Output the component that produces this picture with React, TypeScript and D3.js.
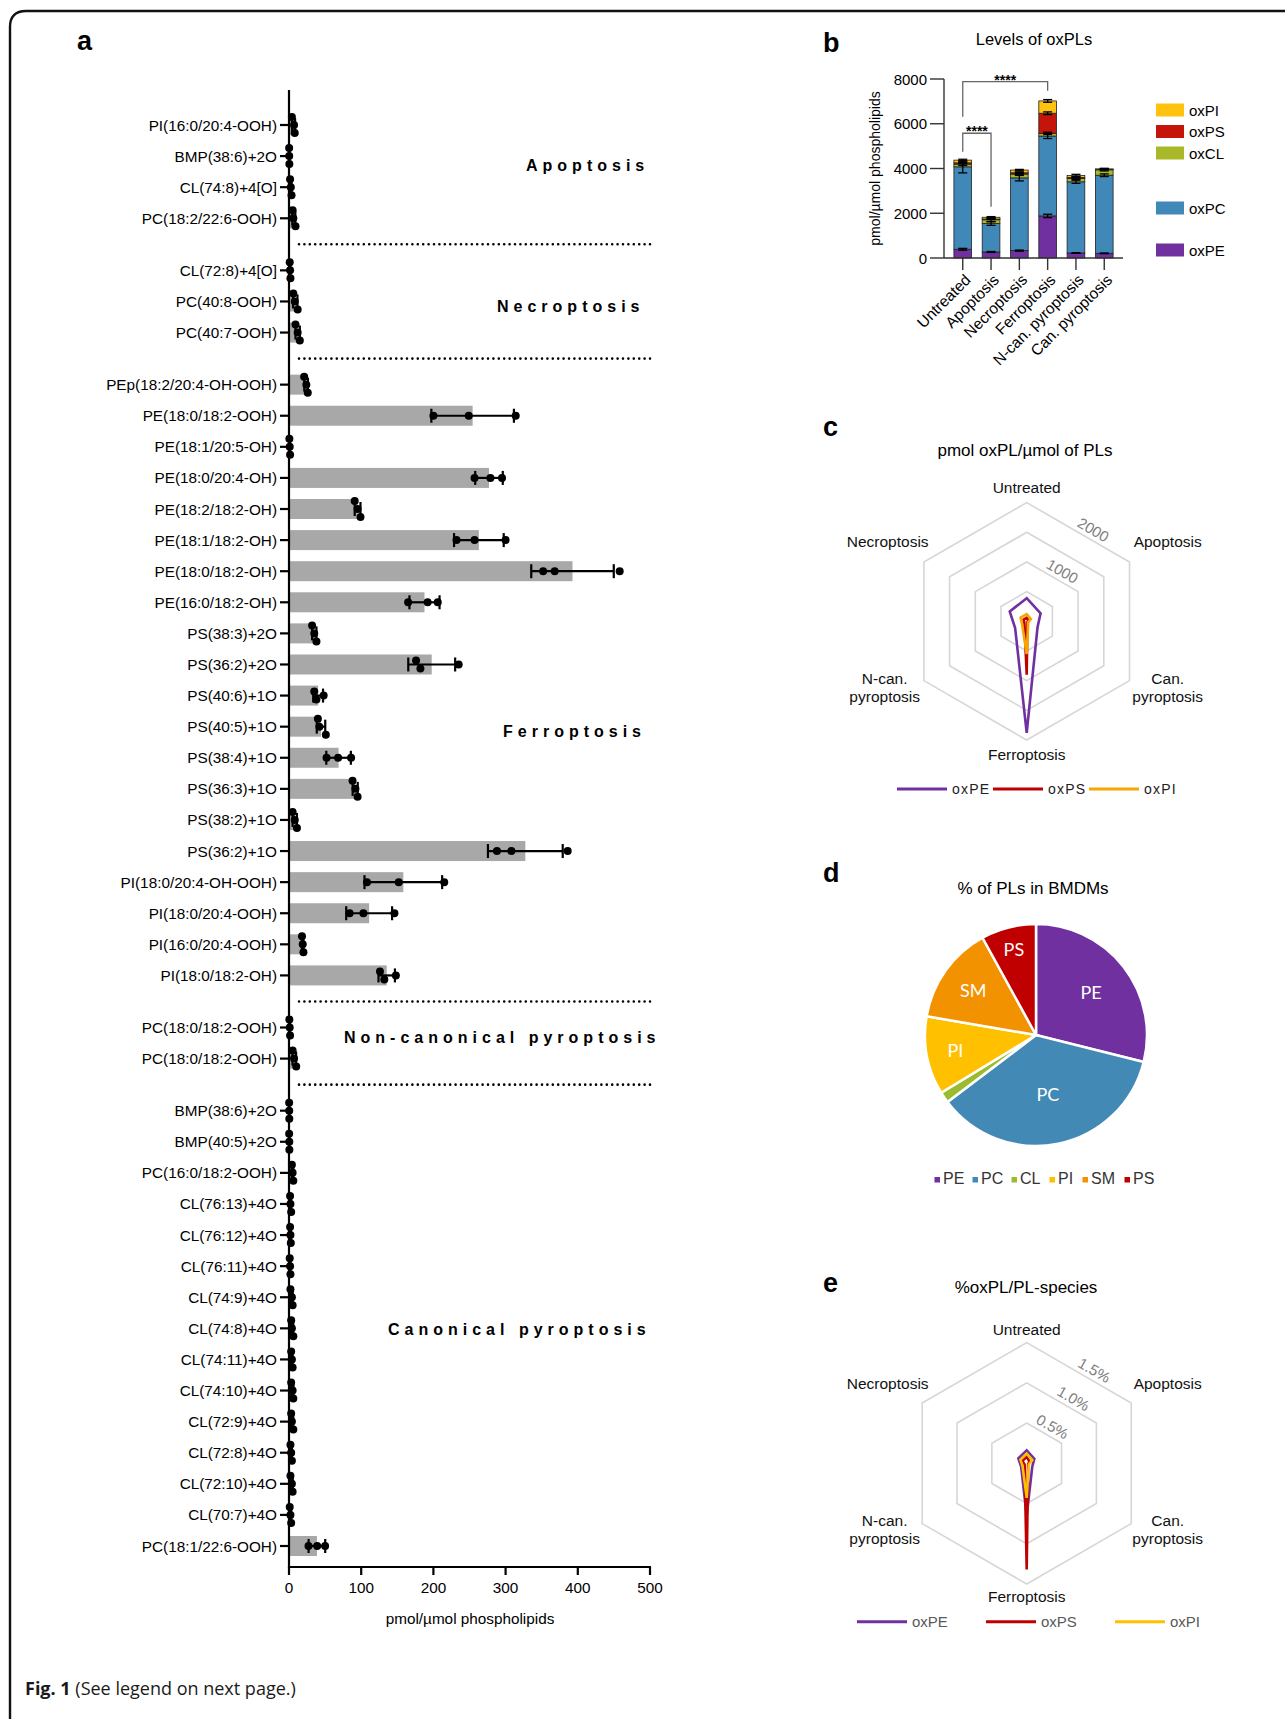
import React from 'react';
import * as d3 from 'd3';

const FONT = '"Liberation Sans", Arial, Helvetica, sans-serif';

// ---------------- Panel a data ----------------
const groupNames = ['Apoptosis', 'Necroptosis', 'Ferroptosis', 'Non-canonical pyroptosis', 'Canonical pyroptosis'];

const apoptosisSpecies = ['PI(16:0/20:4-OOH)', 'BMP(38:6)+2O', 'CL(74:8)+4[O]', 'PC(18:2/22:6-OOH)'];
const apoptosisValues = [[4, 7, 8], [0.2, 0.3, 0.5], [1.5, 2.5, 3.5], [5, 6, 9]];

const necroptosisSpecies = ['CL(72:8)+4[O]', 'PC(40:8-OOH)', 'PC(40:7-OOH)'];
const necroptosisValues = [[1, 1.5, 2], [6, 8, 12], [9, 12, 15]];

const ferroptosisSpecies = [
  'PEp(18:2/20:4-OH-OOH)', 'PE(18:0/18:2-OOH)', 'PE(18:1/20:5-OH)', 'PE(18:0/20:4-OH)', 'PE(18:2/18:2-OH)',
  'PE(18:1/18:2-OH)', 'PE(18:0/18:2-OH)', 'PE(16:0/18:2-OH)', 'PS(38:3)+2O', 'PS(36:2)+2O',
  'PS(40:6)+1O', 'PS(40:5)+1O', 'PS(38:4)+1O', 'PS(36:3)+1O', 'PS(38:2)+1O',
  'PS(36:2)+1O', 'PI(18:0/20:4-OH-OOH)', 'PI(18:0/20:4-OOH)', 'PI(16:0/20:4-OOH)', 'PI(18:0/18:2-OH)',
];
const ferroptosisValues = [
  [21, 24, 26], [200, 249, 314], [0.5, 1, 1.5], [257, 279, 295], [91, 95, 99],
  [232, 257, 300], [352, 368, 458], [165, 192, 206], [32, 35, 38], [176, 182, 235],
  [35, 38, 48], [40, 42, 51], [52, 68, 86], [88, 92, 95], [5, 8, 11],
  [288, 308, 386], [108, 152, 215], [84, 103, 146], [18, 19, 20], [126, 132, 148],
];

const nonCanonicalSpecies = ['PC(18:0/18:2-OOH)', 'PC(18:0/18:2-OOH)'];
const nonCanonicalValues = [[0.5, 1, 1.5], [5, 7, 10]];

const canonicalSpecies = [
  'BMP(38:6)+2O', 'BMP(40:5)+2O', 'PC(16:0/18:2-OOH)', 'CL(76:13)+4O', 'CL(76:12)+4O',
  'CL(76:11)+4O', 'CL(74:9)+4O', 'CL(74:8)+4O', 'CL(74:11)+4O', 'CL(74:10)+4O',
  'CL(72:9)+4O', 'CL(72:8)+4O', 'CL(72:10)+4O', 'CL(70:7)+4O', 'PC(18:1/22:6-OOH)',
];
const canonicalValues = [
  [0.2, 0.3, 0.4], [0.2, 0.4, 0.5], [4, 5, 6], [1.5, 2, 3], [1.5, 2, 2.5],
  [1, 1.5, 2], [2, 4, 5], [3, 4, 6], [3, 4, 5], [3, 5, 6],
  [3, 4, 6], [2, 3, 4], [2, 4, 5], [1, 2, 3], [27, 39, 50],
];

const xTicksA = [0, 100, 200, 300, 400, 500];

// ---------------- Panel b data ----------------
const conditions = ['Untreated', 'Apoptosis', 'Necroptosis', 'Ferroptosis', 'N-can. pyroptosis', 'Can. pyroptosis'];
const oxPE = [390, 270, 330, 1880, 225, 210];
const oxPC = [3684, 1270, 3250, 3570, 3180, 3490];
const oxCL = [120, 170, 170, 120, 150, 240];
const oxPS = [60, 30, 60, 900, 45, 15];
const oxPI = [120, 80, 120, 550, 90, 30];
const oxPEsd = [40, 20, 25, 75, 15, 15];
const oxPCsd = [270, 80, 135, 110, 70, 60];
const oxCLsd = [60, 80, 60, 50, 40, 50];
const oxPSsd = [40, 20, 40, 60, 30, 15];
const oxPIsd = [40, 30, 30, 60, 50, 25];
const yTicksB = [0, 2000, 4000, 6000, 8000];

// ---------------- Panel c / e data ----------------
const radarAxes = ['Untreated', 'Apoptosis', 'Can. pyroptosis', 'Ferroptosis', 'N-can. pyroptosis', 'Necroptosis'];
const ringsC = [500, 1000, 1500, 2000];
const ringLabelsC = [1000, 2000];
// % oxPL per PL species (conditions order)
const pctOxPE = [0.16, 0.11, 0.12, 0.65, 0.08, 0.08];
const pctOxPS = [0.08, 0.04, 0.06, 1.32, 0.03, 0.02];
const pctOxPI = [0.12, 0.08, 0.09, 0.43, 0.06, 0.03];
const ringsE = [0.5, 1.0, 1.5];

// ---------------- Panel d data ----------------
const plClasses = ['PE', 'PC', 'CL', 'PI', 'SM', 'PS'];
const plPercent = [28.9, 35.8, 1.6, 11.4, 14.3, 8.0];

// ---------------- styles ----------------
const stackKeys = ['oxPE', 'oxPC', 'oxCL', 'oxPS', 'oxPI'];
const stackColors: Record<string, string> = {
  oxPE: '#7030a0', oxPC: '#4088b8', oxCL: '#a9b829', oxPS: '#c5150b', oxPI: '#ffc20e',
};
const pieColors = ['#7030a0', '#4389b6', '#9bbb2f', '#ffc000', '#f39200', '#c00000'];
const pieLabelR = [70, 60, 0, 82, 77, 89];
const pieLegendX = [937, 975, 1014, 1052, 1085, 1127];

function dodge(vals: number[], x: (v: number) => number, minDx = 6.5, gap = 8) {
  const sorted = vals.map((v) => ({ v, px: x(v) })).sort((a, b) => a.px - b.px);
  const clusters: { v: number; px: number }[][] = [];
  for (const p of sorted) {
    const last = clusters[clusters.length - 1];
    if (last && p.px - last[last.length - 1].px < minDx) last.push(p);
    else clusters.push([p]);
  }
  return clusters.flatMap((c) => c.map((p, i) => ({ px: p.px, dy: (i - (c.length - 1) / 2) * gap })));
}

function hexPath(cx: number, cy: number, r: number) {
  const pts = d3.range(6).map((k) => {
    const a = (k * Math.PI) / 3;
    return [cx + r * Math.sin(a), cy - r * Math.cos(a)];
  });
  return 'M' + pts.map((p) => p.join(',')).join('L') + 'Z';
}

const labelOffsets: [number, number][] = [
  [0, -134], [141, -80], [141, 66], [0, 133], [-142, 66], [-139, -80],
];

function Radar(props: {
  cx: number; cy: number; R: number; max: number; rings: number[]; ringLabels: number[];
  fmt: (v: number) => string; series: { name: string; values: number[]; color: string }[];
  legendY: number; legendX: number[]; legendColor: string; legendSpacing: number; legendSize: number;
}) {
  const { cx, cy, R, max, rings, ringLabels, fmt, series } = props;
  const r = d3.scaleLinear().domain([0, max]).range([0, R]);
  const ang = d3.scalePoint<string>().domain(radarAxes).range([0, (2 * Math.PI * 5) / 6]);
  const line = d3
    .lineRadial<number>()
    .angle((_, i) => ang(radarAxes[i]) as number)
    .radius((d) => r(d))
    .curve(d3.curveLinearClosed);
  return (
    <g>
      {rings.map((v) => (
        <path key={v} d={hexPath(cx, cy, r(v))} fill="none" stroke="#d6d6d6" strokeWidth={1.6} />
      ))}
      {ringLabels.map((v) => {
        const rr = r(v);
        const mx = 0.433 * rr + 0.866 * 0.1 * rr + 0.5 * 10;
        const my = -0.75 * rr + 0.5 * 0.1 * rr - 0.866 * 10;
        return (
          <text key={v} transform={`translate(${cx + mx},${cy + my}) rotate(30)`} textAnchor="middle"
            dominantBaseline="central" fontSize={15} fill="#808080">{fmt(v)}</text>
        );
      })}
      {radarAxes.map((name, i) => {
        const [dx, dy] = labelOffsets[i];
        const parts = name.includes('pyroptosis') ? [name.replace(' pyroptosis', ''), 'pyroptosis'] : [name];
        return (
          <text key={name} x={cx + dx} y={cy + dy} textAnchor="middle" fontSize={15.5} fill="#111">
            {parts.map((p, j) => (
              <tspan key={j} x={cx + dx} dy={j === 0 ? (parts.length === 1 ? 5.5 : -3) : 17.5}>{p}</tspan>
            ))}
          </text>
        );
      })}
      {series.map((s) => {
        const vals = radarAxes.map((a) => s.values[conditions.indexOf(a)]);
        return (
          <path key={s.name} d={line(vals) || ''} transform={`translate(${cx},${cy})`} fill="none"
            stroke={s.color} strokeWidth={2.6} strokeLinejoin="miter" />
        );
      })}
      {series.map((s, i) => (
        <g key={s.name}>
          <line x1={props.legendX[i]} x2={props.legendX[i] + 50} y1={props.legendY} y2={props.legendY}
            stroke={s.color} strokeWidth={3} />
          <text x={props.legendX[i] + 55} y={props.legendY + 5} fontSize={props.legendSize} fill={props.legendColor}
            letterSpacing={props.legendSpacing}>{s.name}</text>
        </g>
      ))}
    </g>
  );
}

export default function App() {
  // ---------- Panel a ----------
  const groups = [
    { species: apoptosisSpecies, values: apoptosisValues },
    { species: necroptosisSpecies, values: necroptosisValues },
    { species: ferroptosisSpecies, values: ferroptosisValues },
    { species: nonCanonicalSpecies, values: nonCanonicalValues },
    { species: canonicalSpecies, values: canonicalValues },
  ];
  let idx = 0;
  const rows = groups.flatMap((g, gi) =>
    g.species.map((s, i) => {
      const slot = idx + gi * 0.675;
      idx += 1;
      return { label: s, values: g.values[i], gi, slot, key: `${gi}-${i}` };
    })
  );
  const xA = d3.scaleLinear().domain([0, 500]).range([289, 650]);
  const yA = d3.scaleLinear().domain([0, d3.max(rows, (r) => r.slot) as number]).range([125, 1546]);
  const separators = groups.slice(0, -1).map((_, gi) => {
    const last = rows.filter((r) => r.gi === gi).slice(-1)[0];
    const first = rows.filter((r) => r.gi === gi + 1)[0];
    return (yA(last.slot) + yA(first.slot)) / 2;
  });
  const groupLabelPos: [number, number][] = [[526, 171], [497, 312], [503, 737], [344, 1043], [388, 1335]];

  // ---------- Panel b ----------
  const xB = d3.scaleBand<string>().domain(conditions).range([944, 1123]).paddingInner(0.375).paddingOuter(0.35);
  const yB = d3.scaleLinear().domain([0, 8000]).range([258, 79]);
  const tableB = conditions.map((c, i) => ({ c, oxPE: oxPE[i], oxPC: oxPC[i], oxCL: oxCL[i], oxPS: oxPS[i], oxPI: oxPI[i] }));
  const sdB: Record<string, number[]> = { oxPE: oxPEsd, oxPC: oxPCsd, oxCL: oxCLsd, oxPS: oxPSsd, oxPI: oxPIsd };
  const stacked = d3.stack<any>().keys(stackKeys)(tableB);
  const legendB: [string, number][] = [['oxPI', 110], ['oxPS', 131.5], ['oxCL', 153], ['oxPC', 208], ['oxPE', 250]];
  const cx = (c: string) => (xB(c) as number) + xB.bandwidth() / 2;

  // ---------- Panel d ----------
  const pieData = d3.pie<number>().sort(null)(plPercent);
  const arc = d3.arc<d3.PieArcDatum<number>>().innerRadius(0).outerRadius(111);
  const pcx = 1036, pcy = 1035;

  return (
    <div style={{ position: 'absolute', left: 0, top: 0 }}>
      <svg width={1285} height={1719} style={{ display: 'block', fontFamily: FONT }}>
        <rect x={0} y={0} width={1285} height={1719} fill="#fff" />
        <path d="M10,1719 V27 Q10,11 26,11 H1285" fill="none" stroke="#111" strokeWidth={2.4} />

        {/* panel letters */}
        <text x={77} y={50} fontSize={27} fontWeight="bold">a</text>
        <text x={823} y={52} fontSize={27} fontWeight="bold">b</text>
        <text x={823} y={436} fontSize={27} fontWeight="bold">c</text>
        <text x={823} y={882} fontSize={27} fontWeight="bold">d</text>
        <text x={823} y={1292} fontSize={27} fontWeight="bold">e</text>

        {/* ================= Panel a ================= */}
        <g>
          {rows.map((r) => {
            const mean = d3.mean(r.values) as number;
            const sd = d3.deviation(r.values) || 0;
            const y = yA(r.slot);
            const pts = dodge(r.values, xA);
            return (
              <g key={r.key}>
                <rect x={xA(0)} y={y - 10} width={Math.max(0, xA(mean) - xA(0))} height={20} fill="#a8a8a8" />
                <line x1={xA(Math.max(0, mean - sd))} x2={xA(mean + sd)} y1={y} y2={y} stroke="#000" strokeWidth={2.2} />
                <line x1={xA(Math.max(0, mean - sd))} x2={xA(Math.max(0, mean - sd))} y1={y - 7} y2={y + 7} stroke="#000" strokeWidth={2.2} />
                <line x1={xA(mean + sd)} x2={xA(mean + sd)} y1={y - 7} y2={y + 7} stroke="#000" strokeWidth={2.2} />
                {pts.map((p, j) => (
                  <circle key={j} cx={p.px} cy={y + p.dy} r={4} fill="#000" />
                ))}
                <line x1={280} x2={289} y1={y} y2={y} stroke="#000" strokeWidth={2.2} />
                <text x={277} y={y} textAnchor="end" dominantBaseline="central" fontSize={15.3} fill="#000">{r.label}</text>
              </g>
            );
          })}
          {separators.map((y, i) => (
            <line key={i} x1={299} x2={653} y1={y} y2={y} stroke="#000" strokeWidth={2.6}
              strokeDasharray="0 5.4" strokeLinecap="round" />
          ))}
          {groupNames.map((g, i) => (
            <text key={g} x={groupLabelPos[i][0]} y={groupLabelPos[i][1]} fontSize={16} fontWeight="bold"
              letterSpacing={5} fill="#000">{g}</text>
          ))}
          <line x1={289} x2={289} y1={90} y2={1568} stroke="#000" strokeWidth={2.2} />
          <line x1={288} x2={651} y1={1567} y2={1567} stroke="#000" strokeWidth={2.2} />
          {xTicksA.map((t) => (
            <g key={t}>
              <line x1={xA(t)} x2={xA(t)} y1={1567} y2={1575} stroke="#000" strokeWidth={2.2} />
              <text x={xA(t)} y={1587} textAnchor="middle" dominantBaseline="central" fontSize={15.3}>{t}</text>
            </g>
          ))}
          <text x={470} y={1618} textAnchor="middle" dominantBaseline="central" fontSize={15.3}>pmol/µmol phospholipids</text>
        </g>

        {/* ================= Panel b ================= */}
        <g>
          <text x={1034} y={45} textAnchor="middle" fontSize={16.5}>Levels of oxPLs</text>
          {stacked.map((layer) =>
            layer.map((d, i) => (
              <rect key={layer.key + i} x={xB(conditions[i])} y={yB(d[1])} width={xB.bandwidth()}
                height={Math.max(0, yB(d[0]) - yB(d[1]))} fill={stackColors[layer.key]} stroke="#222" strokeWidth={0.8} />
            ))
          )}
          {stacked.map((layer) =>
            layer.map((d, i) => {
              const c = cx(conditions[i]);
              const sd = sdB[layer.key][i];
              return (
                <g key={'e' + layer.key + i} stroke="#000" strokeWidth={1.3}>
                  <line x1={c} x2={c} y1={yB(d[1] - sd)} y2={yB(d[1] + sd)} />
                  <line x1={c - 4.5} x2={c + 4.5} y1={yB(d[1] - sd)} y2={yB(d[1] - sd)} />
                  <line x1={c - 4.5} x2={c + 4.5} y1={yB(d[1] + sd)} y2={yB(d[1] + sd)} />
                </g>
              );
            })
          )}
          <line x1={944} x2={944} y1={yB(8000)} y2={yB(0)} stroke="#333" strokeWidth={1.4} />
          <line x1={944} x2={1123} y1={yB(0)} y2={yB(0)} stroke="#333" strokeWidth={1.4} />
          {yTicksB.map((t) => (
            <g key={t}>
              <line x1={930} x2={944} y1={yB(t)} y2={yB(t)} stroke="#333" strokeWidth={1.4} />
              <text x={927} y={yB(t)} textAnchor="end" dominantBaseline="central" fontSize={15}>{t}</text>
            </g>
          ))}
          {conditions.map((c) => (
            <g key={c}>
              <line x1={cx(c)} x2={cx(c)} y1={yB(0)} y2={yB(0) + 12} stroke="#333" strokeWidth={1.4} />
              <text transform={`translate(${cx(c) + 5},${yB(0) + 19}) rotate(-45)`} textAnchor="end"
                dominantBaseline="central" fontSize={15.5}>{c}</text>
            </g>
          ))}
          <text transform={`translate(875,${yB(4000)}) rotate(-90)`} textAnchor="middle" dominantBaseline="central"
            fontSize={14}>pmol/µmol phospholipids</text>
          {/* significance brackets */}
          <path d={`M${cx('Untreated')},${yB(6315)} V${yB(7880)} H${cx('Ferroptosis')} V${yB(7480)}`} fill="none" stroke="#666" strokeWidth={1.3} />
          <text x={(cx('Untreated') + cx('Ferroptosis')) / 2} y={yB(7880) + 3} textAnchor="middle" fontSize={14} fontWeight="bold">****</text>
          <path d={`M${cx('Untreated')},${yB(4750)} V${yB(5575)} H${cx('Apoptosis')} V${yB(2295)}`} fill="none" stroke="#666" strokeWidth={1.3} />
          <text x={(cx('Untreated') + cx('Apoptosis')) / 2} y={yB(5575) + 3} textAnchor="middle" fontSize={14} fontWeight="bold">****</text>
          {legendB.map(([k, y]) => (
            <g key={k}>
              <rect x={1156} y={y - 6.5} width={28} height={13} fill={stackColors[k]} />
              <text x={1189} y={y} dominantBaseline="central" fontSize={15}>{k}</text>
            </g>
          ))}
        </g>

        {/* ================= Panel c ================= */}
        <text x={1025} y={456} textAnchor="middle" fontSize={17}>pmol oxPL/µmol of PLs</text>
        <Radar cx={1026.7} cy={621.3} R={118.7} max={2000} rings={ringsC} ringLabels={ringLabelsC}
          fmt={(v) => String(v)}
          series={[
            { name: 'oxPE', values: oxPE, color: '#7030a0' },
            { name: 'oxPS', values: oxPS, color: '#c00000' },
            { name: 'oxPI', values: oxPI, color: '#f7a600' },
          ]}
          legendY={789} legendX={[897, 993, 1089]} legendColor="#222" legendSpacing={1.2} legendSize={14} />

        {/* ================= Panel d ================= */}
        <text x={1033} y={894} textAnchor="middle" fontSize={17}>% of PLs in BMDMs</text>
        <g transform={`translate(${pcx},${pcy})`}>
          {pieData.map((p, i) => (
            <path key={i} d={arc(p) || ''} fill={pieColors[i]} stroke="#fff" strokeWidth={2.5} />
          ))}
          {pieData.map((p, i) => {
            if (!pieLabelR[i]) return null;
            const a = (p.startAngle + p.endAngle) / 2;
            return (
              <text key={'l' + i} x={pieLabelR[i] * Math.sin(a)} y={-pieLabelR[i] * Math.cos(a)} textAnchor="middle"
                dominantBaseline="central" fontSize={18} fill="#fff" fontFamily="Lato, 'Open Sans', sans-serif">
                {plClasses[i]}
              </text>
            );
          })}
        </g>
        {plClasses.map((c, i) => (
          <g key={c}>
            <rect x={pieLegendX[i] - 2.5} y={1177} width={5.5} height={5.5} fill={pieColors[i]} />
            <text x={pieLegendX[i] + 6} y={1178} dominantBaseline="central" fontSize={16} fill="#333">{c}</text>
          </g>
        ))}

        {/* ================= Panel e ================= */}
        <text x={1026} y={1293} textAnchor="middle" fontSize={17}>%oxPL/PL-species</text>
        <Radar cx={1026.7} cy={1463.3} R={120.7} max={1.5} rings={ringsE} ringLabels={ringsE}
          fmt={(v) => v.toFixed(1) + '%'}
          series={[
            { name: 'oxPE', values: pctOxPE, color: '#7030a0' },
            { name: 'oxPS', values: pctOxPS, color: '#c00000' },
            { name: 'oxPI', values: pctOxPI, color: '#ffc000' },
          ]}
          legendY={1621.7} legendX={[857, 986, 1115]} legendColor="#595959" legendSpacing={0} legendSize={15} />

        {/* caption */}
        <text x={25} y={1695} fontSize={18} fontFamily="'Open Sans', 'Noto Sans', sans-serif" fill="#1a1a1a">
          <tspan fontWeight="bold">Fig. 1</tspan>
          <tspan> (See legend on next page.)</tspan>
        </text>
      </svg>
    </div>
  );
}
